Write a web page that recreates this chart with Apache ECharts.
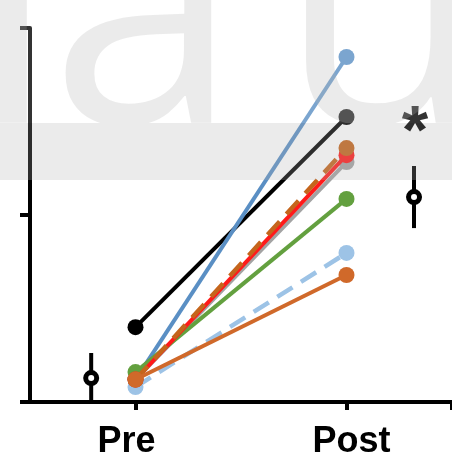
<!DOCTYPE html>
<html><head><meta charset="utf-8">
<script src="https://cdn.jsdelivr.net/npm/echarts@6/dist/echarts.min.js"></script>
<style>html,body{margin:0;padding:0;background:#fff}#c{width:452px;height:464px}</style>
</head><body><div id="c"></div>
<script>
const categories = ['Pre', 'Post'];
const categoryX = [1, 2];
const subjectNames = ['S1','S2','S3','S4','S5','S6','S7','S8'];
const subjectColors = ['#a3a3a3','#9dc3e6','#000000','#5a8fc4','#63a03f','#ff1a1a','#c5651c','#d0692a'];
const subjectDashed = [false, true, false, false, false, false, true, false];
const preValues  = [0.12, 0.08, 0.40, 0.12, 0.16, 0.12, 0.12, 0.12];
const postValues = [1.283, 0.797, 1.524, 1.845, 1.086, 1.32, 1.358, 0.679];
const meanX = [0.79, 2.32];
const meanValues = [0.128, 1.096];
const errLow = [0.0, 0.93];
const errHigh = [0.262, 1.262];
const sigLabel = '*';
const sigPos = [2.32, 1.52];

const series = [];
subjectNames.forEach((n, i) => {
  series.push({
    type: 'line', name: n,
    data: [[categoryX[0], preValues[i]], [categoryX[1], postValues[i]]],
    symbol: 'circle', symbolSize: 16,
    itemStyle: { color: subjectColors[i] },
    lineStyle: { color: subjectColors[i], width: subjectDashed[i] ? 4.5 : 4, type: subjectDashed[i] ? [18, 10] : 'solid' },
    silent: true, z: 2 + i
  });
});
meanX.forEach((x, i) => {
  series.push({
    type: 'line', data: [[x, errLow[i]], [x, errHigh[i]]],
    symbol: 'none', lineStyle: { color: '#000', width: 4 }, z: 20, silent: true
  });
});
series.push({
  type: 'scatter', data: meanX.map((x, i) => [x, meanValues[i]]),
  symbol: 'circle', symbolSize: 11,
  itemStyle: { color: '#fff', borderColor: '#000', borderWidth: 5, opacity: 1 }, z: 21, silent: true
});
series.push({
  type: 'scatter', data: [sigPos], symbolSize: 0, silent: true, z: 22,
  itemStyle: { color: '#000', opacity: 1 },
  label: { show: true, position: 'inside', formatter: sigLabel, fontSize: 68, fontWeight: 'bold',
           fontFamily: 'Liberation Sans, Arial', color: '#000', textBorderWidth: 0, textBorderColor: 'transparent',
           offset: [1, 16] }
});

const chart = echarts.init(document.getElementById('c'));
chart.setOption({
  animation: false,
  grid: { left: 30, right: 0, top: 28, bottom: 62 },
  xAxis: {
    type: 'value', min: 0.5, max: 2.5, interval: 0.5,
    splitLine: { show: false },
    axisLine: { show: true, lineStyle: { color: '#000', width: 4 } },
    axisTick: { show: true, customValues: [1, 2, 2.5], length: 8, lineStyle: { color: '#000', width: 4 } },
    axisLabel: { show: true, customValues: categoryX,
      formatter: v => {
        const i = categoryX.indexOf(v);
        return i === 0 ? '{a|' + categories[0] + '}' : (i === 1 ? '{b|' + categories[1] + '}' : '');
      },
      rich: {
        a: { fontSize: 36, fontWeight: 'bold', fontFamily: 'Liberation Sans, Arial', color: '#000', padding: [0, 18, 0, 0] },
        b: { fontSize: 36, fontWeight: 'bold', fontFamily: 'Liberation Sans, Arial', color: '#000', padding: [0, 0, 0, 10] }
      },
      fontSize: 36, fontWeight: 'bold', fontFamily: 'Liberation Sans, Arial', color: '#000', margin: 22 }
  },
  yAxis: {
    type: 'value', min: 0, max: 2, interval: 1,
    splitLine: { show: false },
    axisLine: { show: true, lineStyle: { color: '#000', width: 4 } },
    axisTick: { show: true, length: 10, lineStyle: { color: '#000', width: 4 } },
    axisLabel: { show: false }
  },
  graphic: [
    { type: 'rect', z: 100, silent: true, shape: { x: 0, y: 0, width: 452, height: 123 }, style: { fill: 'rgba(255,255,255,0.2)' } },
    { type: 'group', z: 101, silent: true, clipPath: { type: 'rect', shape: { x: 0, y: 0, width: 452, height: 123 } },
      children: [
        { type: 'text', z: 101, x: -30, y: -144,
          style: { text: 'l', font: '340px "Open Sans"', fill: 'rgba(176,176,176,0.255)' } },
        { type: 'text', z: 101, x: 50, y: -144,
          style: { text: 'a', font: '340px "Open Sans"', fill: 'rgba(176,176,176,0.255)' } },
        { type: 'text', z: 101, x: 279, y: -144,
          style: { text: 'u', font: '340px "Open Sans"', fill: 'rgba(176,176,176,0.255)' } }
      ] },
    { type: 'rect', z: 101, silent: true, shape: { x: 0, y: 123, width: 452, height: 57 }, style: { fill: 'rgba(176,176,176,0.255)' } }
  ],
  series
});
</script></body></html>
